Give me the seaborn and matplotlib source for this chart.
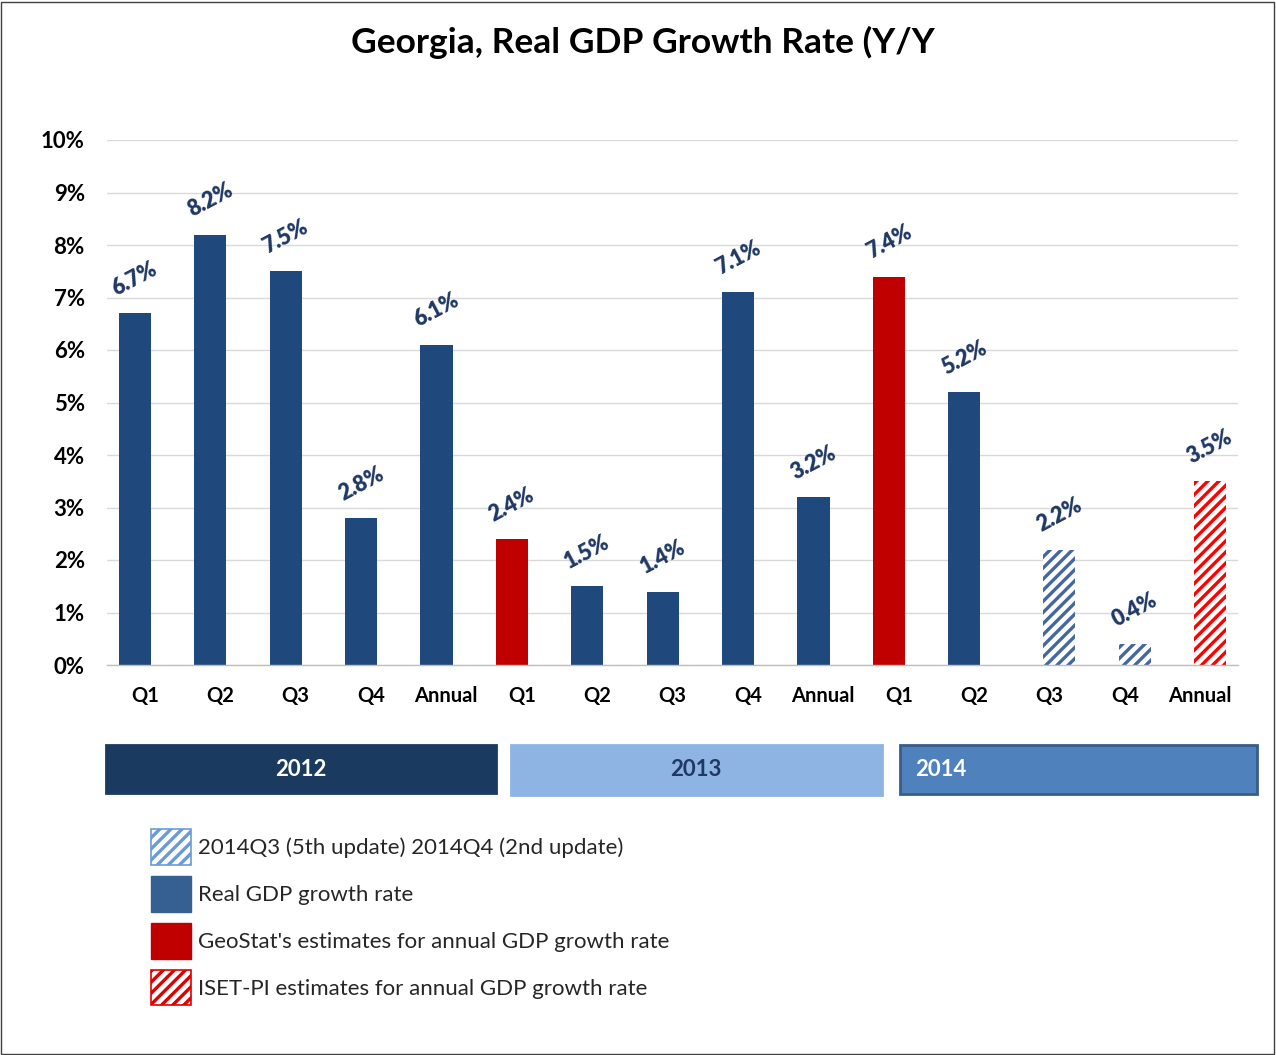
import matplotlib
matplotlib.use("Agg")
import matplotlib.pyplot as plt
from matplotlib.patches import Patch, Rectangle
from matplotlib import font_manager
import seaborn as sns
import pandas as pd

# ---------------- data ----------------
years = ["2012"] * 5 + ["2013"] * 5 + ["2014"] * 5
periods = ["Q1", "Q2", "Q3", "Q4", "Annual",
           "Q1", "Q2", "Q3", "Q4", "Annual",
           "Q1", "Q2", "Q3", "Q4", "Annual"]
growth = [6.7, 8.2, 7.5, 2.8, 6.1,
          2.4, 1.5, 1.4, 7.1, 3.2,
          7.4, 5.2, 2.2, 0.4, 3.5]
S_UPD = "2014Q3 (5th update) 2014Q4 (2nd update)"
S_REAL = "Real GDP growth rate"
S_GEO = "GeoStat's estimates for annual GDP growth rate"
S_ISET = "ISET-PI estimates for annual GDP growth rate"
series = [S_REAL, S_REAL, S_REAL, S_REAL, S_REAL,
          S_GEO, S_REAL, S_REAL, S_REAL, S_REAL,
          S_GEO, S_REAL, S_UPD, S_UPD, S_ISET]
series_order = [S_UPD, S_REAL, S_GEO, S_ISET]
year_bands = ["2012", "2013", "2014"]
title = "Georgia, Real GDP Growth Rate (Y/Y"

keys = [f"{y} {p}" for y, p in zip(years, periods)]
df = pd.DataFrame({"key": keys, "period": periods, "growth": growth, "series": series})

# ---------------- style ----------------
sns.set_theme(style="white")
plt.rcParams["font.family"] = ["Lato", "DejaVu Sans"]
plt.rcParams["font.style"] = "normal"
plt.rcParams["hatch.linewidth"] = 2.4

avail = {f.name for f in font_manager.fontManager.ttflist}
narrow = "Liberation Sans Narrow" if "Liberation Sans Narrow" in avail else "Lato"

bar_colors = {S_REAL: "#1F497D", S_GEO: "#C00000", S_UPD: "#44689E", S_ISET: "#FF0000"}
hatched = {S_UPD: True, S_REAL: False, S_GEO: False, S_ISET: True}

W, H = 1276, 1055
fig = plt.figure(figsize=(12.76, 10.55), dpi=100)
ax = fig.add_axes([107 / W, 1 - 665 / H, 1131 / W, 525 / H])

sns.barplot(data=df, x="key", y="growth", hue="series", hue_order=series_order,
            order=keys, palette=bar_colors, dodge=False, width=0.425,
            errorbar=None, legend=False, ax=ax, saturation=1)

for name, cont in zip(series_order, ax.containers):
    shift = 0.13 if hatched[name] else -0.13
    for bar in cont:
        bar.set_x(bar.get_x() + shift)
        bar.set_linewidth(0)
        if hatched[name]:
            bar.set_facecolor("white")
            bar.set_edgecolor(bar_colors[name])
            bar.set_hatch("///")
    ax.bar_label(cont, fmt="{:.1f}%", padding=10, rotation=28,
                 color="#1F3864", fontsize=15.5, fontweight="heavy", fontstyle="normal")

ax.set_ylim(0, 10)
ax.set_xlim(-0.5, len(keys) - 0.5)
ax.set_yticks(range(0, 11))
ax.set_yticklabels([f"{v}%" for v in range(0, 11)], fontsize=16, fontweight="bold", color="black")
ax.set_xticks(range(len(keys)))
ax.set_xticklabels(periods, fontsize=14.5, fontweight="bold", color="black")
ax.tick_params(axis="x", length=0, pad=15)
ax.tick_params(axis="y", length=0, pad=16)
ax.set_xlabel("")
ax.set_ylabel("")
ax.yaxis.grid(True, color="#D9D9D9", linewidth=1)
ax.set_axisbelow(True)
for s in ["top", "right", "left"]:
    ax.spines[s].set_visible(False)
ax.spines["bottom"].set_color("#BFBFBF")
ax.spines["bottom"].set_linewidth(1)

fig.text(643 / W, 1 - 42 / H, title, ha="center", va="center",
         fontsize=25.5, fontweight="bold", color="black")

# year bands
bands = [
    (106, 745, 390, 48, "#1B3A5F", "#1B3A5F", "white", 301, "center"),
    (511, 745, 371, 50, "#8EB4E3", "#8EB4E3", "#1F3864", 696, "center"),
    (900, 745, 357, 49, "#4F81BD", "#385D8A", "white", 915, "left"),
]
for (x, y, w, h, fc, ec, tc, tx, ha), lab in zip(bands, year_bands):
    fig.patches.append(Rectangle((x / W, 1 - (y + h) / H), w / W, h / H,
                                 transform=fig.transFigure, facecolor=fc,
                                 edgecolor=ec, linewidth=2))
    fig.text(tx / W, 1 - (y + h / 2) / H, lab, ha=ha, va="center",
             color=tc, fontsize=16, fontweight="bold", family=narrow)

# legend
handles = [
    Patch(facecolor="white", edgecolor="#6A9BD8", hatch="///", linewidth=1.2, label=S_UPD),
    Patch(facecolor="#376092", edgecolor="#376092", label=S_REAL),
    Patch(facecolor="#C00000", edgecolor="#C00000", label=S_GEO),
    Patch(facecolor="white", edgecolor="#E00000", hatch="///", linewidth=1.2, label=S_ISET),
]
fig.legend(handles=handles, loc="upper left", bbox_to_anchor=(151 / W, 1 - 829 / H),
           frameon=False, fontsize=16, handlelength=1.8, handleheight=2.1,
           handletextpad=0.3, labelspacing=0.5, borderpad=0, borderaxespad=0)

# outer frame
fig.patches.append(Rectangle((1 / W, 1 / H), 1 - 3 / W, 1 - 3 / H, transform=fig.transFigure,
                             facecolor="none", edgecolor="#404040", linewidth=1))

fig.savefig("out.png", dpi=100, facecolor="white")
